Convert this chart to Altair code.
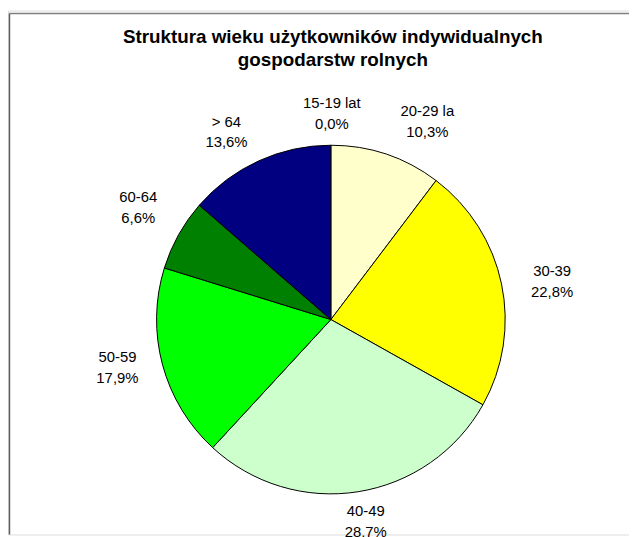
import altair as alt
import pandas as pd

# ---- data ----
categories = ["15-19 lat", "20-29 la", "30-39", "40-49", "50-59", "60-64", "> 64"]
values = [0.0, 10.3, 22.8, 28.7, 17.9, 6.6, 13.6]
colors = ["#9999FF", "#FFFFCC", "#FFFF00", "#CCFFCC", "#00FF00", "#008000", "#000080"]
title_lines = ["Struktura wieku użytkowników indywidualnych", "gospodarstw rolnych"]

df = pd.DataFrame({"cat": categories, "value": values, "idx": list(range(len(categories)))})
total = sum(values)

# ---- layout (pixels inside the view) ----
W, H = 627, 529
CX, CY = 326, 312
R = 176
LABEL_R = 218
FONT = "Liberation Sans"
LINE_H = 21
nudge = {
    "15-19 lat": (1, 10),
    "20-29 la": (28, 7),
    "30-39": (10, 6),
    "40-49": (1, -11),
    "50-59": (-5, -8),
    "60-64": (-4, -7),
    "> 64": (-15, 9),
}

theta_scale = alt.Scale(domain=[0, total])
color_scale = alt.Scale(domain=categories, range=colors)

base = alt.Chart(df)

pie = base.mark_arc(outerRadius=R, stroke="black", strokeWidth=1).encode(
    theta=alt.Theta("value:Q", stack=True, scale=theta_scale),
    order=alt.Order("idx:Q"),
    color=alt.Color("cat:N", scale=color_scale, legend=None),
    x=alt.value(CX),
    y=alt.value(CY),
)

label_base = base.transform_window(
    cum="sum(value)", sort=[alt.SortField("idx")], frame=[None, 0]
).transform_calculate(
    mid="datum.cum - datum.value / 2",
    label="datum.cat + '\\n' + replace(format(datum.value, '.1f'), '.', ',') + '%'",
)

label_layers = []
for c in categories:
    dx, dy = nudge[c]
    label_layers.append(
        label_base.transform_filter(alt.FieldEqualPredicate(field="cat", equal=c))
        .mark_text(
            font=FONT, fontSize=15, color="black", lineBreak="\n", lineHeight=LINE_H,
            align="center", baseline="middle", dx=dx, dy=dy - LINE_H / 2,
        )
        .encode(
            theta=alt.Theta("mid:Q", stack=None, scale=theta_scale),
            radius=alt.value(LABEL_R),
            x=alt.value(CX),
            y=alt.value(CY),
            text="label:N",
        )
    )

one = alt.Data(values=[{"k": 1}])

frame_top = alt.Chart(one).mark_rule(color="#808080", strokeWidth=1.5).encode(
    x=alt.value(1.5), x2=alt.value(W), y=alt.value(3)
)
frame_left = alt.Chart(one).mark_rule(color="#606060", strokeWidth=1.5).encode(
    x=alt.value(1.5), y=alt.value(3), y2=alt.value(H)
)

title = alt.Chart(one).mark_text(
    font=FONT, fontSize=19, fontWeight="bold", color="black",
    lineBreak="\n", lineHeight=23, align="center", baseline="middle",
).encode(
    x=alt.value(328), y=alt.value(27), text=alt.value("\n".join(title_lines))
)

chart = alt.layer(frame_top, frame_left, title, pie, *label_layers).properties(
    width=W, height=H, padding=0, autosize=alt.AutoSizeParams(type="none")
).configure_view(stroke=None).configure(background="white")

chart.save("out.html", embed_options={"renderer": "svg", "actions": False})
